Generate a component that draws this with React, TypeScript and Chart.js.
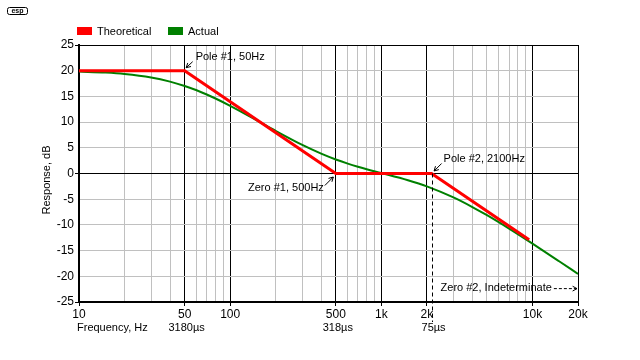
import React, { useEffect, useRef } from "react";
import { Chart, registerables } from "chart.js";

Chart.register(...registerables);

// ---- data ----
const ACTUAL_FREQ = [10, 15, 20, 30, 40, 50, 60, 70, 80, 100, 150, 200, 300, 400, 500, 600, 700, 800, 1000, 1500, 2000, 3000, 4000, 5000, 7000, 10000, 15000, 20000];
const ACTUAL_DB = [19.83, 19.63, 19.36, 18.68, 17.88, 17.03, 16.19, 15.37, 14.59, 13.17, 10.35, 8.3, 5.57, 3.87, 2.73, 1.93, 1.32, 0.83, 0.09, -1.31, -2.5, -4.65, -6.52, -8.12, -10.73, -13.65, -17.07, -19.53];
const THEORY_FREQ = [10, 50, 500, 2150, 9500];
const THEORY_DB = [20, 20, 0, 0, -12.9];

const X_TICKS = [10, 20, 30, 40, 50, 60, 70, 80, 90, 100, 200, 300, 400, 500, 600, 700, 800, 900, 1000, 2000, 3000, 4000, 5000, 6000, 7000, 8000, 9000, 10000, 20000];
const X_MAJOR = [10, 50, 100, 500, 1000, 2000, 10000, 20000];
const X_LABELS = ["10", "50", "100", "500", "1k", "2k", "10k", "20k"];
const Y_BLACK = [0, 25];

const TC_FREQ = [50, 500, 2150];
const TC_LABELS = ["3180µs", "318µs", "75µs"];

const POLE1 = { f: 50, db: 20, text: "Pole #1, 50Hz" };
const ZERO1 = { f: 500, db: 0, text: "Zero #1, 500Hz" };
const POLE2 = { f: 2150, db: 0, text: "Pole #2, 2100Hz" };
const ZERO2 = { f: 2150, db: -22.3, text: "Zero #2, Indeterminate" };

const FAMILY = '"Liberation Sans", Arial, sans-serif';
const RED = "#ff0000";
const GREEN = "#008000";
const GRAY = "#c0c0c0";

function arrowHead(ctx: CanvasRenderingContext2D, x1: number, y1: number, x2: number, y2: number) {
  const a = Math.atan2(y2 - y1, x2 - x1);
  const L = 5;
  ctx.beginPath();
  ctx.moveTo(x2 - L * Math.cos(a - 0.5), y2 - L * Math.sin(a - 0.5));
  ctx.lineTo(x2, y2);
  ctx.lineTo(x2 - L * Math.cos(a + 0.5), y2 - L * Math.sin(a + 0.5));
  ctx.stroke();
}

function arrow(ctx: CanvasRenderingContext2D, x1: number, y1: number, x2: number, y2: number, dash: number[] = []) {
  ctx.setLineDash(dash);
  ctx.beginPath();
  ctx.moveTo(x1, y1);
  ctx.lineTo(x2, y2);
  ctx.stroke();
  ctx.setLineDash([]);
  arrowHead(ctx, x1, y1, x2, y2);
}

const overlay = {
  id: "overlay",
  afterDraw(chart: any) {
    const { ctx, chartArea } = chart;
    const xs = chart.scales.x;
    const ys = chart.scales.y;
    ctx.save();
    ctx.fillStyle = "#000";
    ctx.strokeStyle = "#000";
    ctx.lineWidth = 1;

    // logo
    ctx.beginPath();
    ctx.roundRect(7.5, 7.5, 20, 7, 2);
    ctx.stroke();
    ctx.font = "bold 7px " + FAMILY;
    ctx.textAlign = "center";
    ctx.textBaseline = "middle";
    ctx.fillText("esp", 17.5, 11.5);

    // legend
    ctx.font = "11px " + FAMILY;
    ctx.textAlign = "left";
    ctx.textBaseline = "middle";
    const legend = [
      { label: chart.data.datasets[0].label, color: RED, x: 77 },
      { label: chart.data.datasets[1].label, color: GREEN, x: 168 },
    ];
    legend.forEach((l) => {
      ctx.fillStyle = l.color;
      ctx.fillRect(l.x, 27, 15, 8);
      ctx.fillStyle = "#000";
      ctx.fillText(l.label, l.x + 20, 31.5);
    });

    // y title
    ctx.save();
    ctx.translate(47, 180);
    ctx.rotate(-Math.PI / 2);
    ctx.textAlign = "center";
    ctx.fillText("Response, dB", 0, 0);
    ctx.restore();

    // bottom row
    ctx.textAlign = "left";
    ctx.fillText("Frequency, Hz", 77, 328);
    ctx.textAlign = "center";
    TC_FREQ.forEach((f, i) => {
      ctx.fillText(TC_LABELS[i], xs.getPixelForValue(f) + 2, 328);
    });

    // dashed pole #2 line
    const xd = Math.round(xs.getPixelForValue(POLE2.f)) + 0.5;
    ctx.setLineDash([4, 3]);
    ctx.beginPath();
    ctx.moveTo(xd, ys.getPixelForValue(0));
    ctx.lineTo(xd, chartArea.bottom + 20);
    ctx.stroke();
    ctx.setLineDash([]);

    // annotations
    ctx.font = "11px " + FAMILY;
    ctx.textBaseline = "middle";
    // Pole #1
    let px = xs.getPixelForValue(POLE1.f);
    let py = ys.getPixelForValue(POLE1.db);
    arrow(ctx, px + 8, py - 9, px + 1.5, py - 3);
    ctx.textAlign = "left";
    ctx.fillText(POLE1.text, px + 11, py - 13.5);
    // Zero #1
    px = xs.getPixelForValue(ZERO1.f);
    py = ys.getPixelForValue(ZERO1.db);
    arrow(ctx, px - 11, py + 12, px - 2.5, py + 3.5);
    ctx.textAlign = "right";
    ctx.fillText(ZERO1.text, px - 12, py + 14);
    // Pole #2
    px = xs.getPixelForValue(POLE2.f);
    py = ys.getPixelForValue(POLE2.db);
    arrow(ctx, px + 10, py - 10, px + 2.5, py - 2.5);
    ctx.textAlign = "left";
    ctx.fillText(POLE2.text, px + 12, py - 14.5);
    // Zero #2
    px = xs.getPixelForValue(ZERO2.f);
    py = ys.getPixelForValue(ZERO2.db);
    ctx.textAlign = "left";
    ctx.fillText(ZERO2.text, px + 9, py);
    const tw = ctx.measureText(ZERO2.text).width;
    arrow(ctx, px + 9 + tw + 2, py + 0.5, chartArea.right - 1, py + 0.5, [3, 2]);

    ctx.restore();
  },
};

export default function App() {
  const ref = useRef<HTMLCanvasElement | null>(null);

  useEffect(() => {
    if (!ref.current) return;
    const isMajor = (v: any) => X_MAJOR.indexOf(Number(v)) >= 0;
    const chart = new Chart(ref.current, {
      type: "line",
      data: {
        datasets: [
          {
            label: "Theoretical",
            data: THEORY_FREQ.map((f, i) => ({ x: f, y: THEORY_DB[i] })),
            borderColor: RED,
            backgroundColor: RED,
            borderWidth: 3,
            pointRadius: 0,
            tension: 0,
          },
          {
            label: "Actual",
            data: ACTUAL_FREQ.map((f, i) => ({ x: f, y: ACTUAL_DB[i] })),
            borderColor: GREEN,
            backgroundColor: GREEN,
            borderWidth: 2,
            pointRadius: 0,
            cubicInterpolationMode: "monotone",
          },
        ],
      },
      options: {
        responsive: false,
        animation: false,
        events: [],
        layout: { padding: { top: 45, right: 62, left: 0, bottom: 0 } },
        plugins: {
          legend: { display: false },
          tooltip: { enabled: false },
          title: { display: false },
        },
        scales: {
          x: {
            type: "logarithmic",
            min: 10,
            max: 20000,
            afterBuildTicks: (s: any) => {
              s.ticks = X_TICKS.map((v) => ({ value: v }));
            },
            afterFit: (s: any) => {
              s.height = 58;
            },
            ticks: {
              autoSkip: false,
              maxRotation: 0,
              minRotation: 0,
              padding: 1,
              color: "#000",
              font: { size: 12, family: FAMILY },
              callback: (v: any) => {
                const i = X_MAJOR.indexOf(Number(v));
                return i >= 0 ? X_LABELS[i] : "";
              },
            },
            grid: {
              color: (c: any) => (isMajor(c.tick?.value) ? "#000" : GRAY),
              tickColor: (c: any) => (isMajor(c.tick?.value) ? "#000" : "rgba(0,0,0,0)"),
              tickLength: 4,
              lineWidth: 1,
            },
            border: { color: "#000", width: 2 },
          },
          y: {
            min: -25,
            max: 25,
            afterFit: (s: any) => {
              s.width = 79;
            },
            ticks: {
              stepSize: 5,
              padding: 1,
              color: "#000",
              font: { size: 12, family: FAMILY },
            },
            grid: {
              color: (c: any) => (Y_BLACK.indexOf(c.tick?.value) >= 0 ? "#000" : GRAY),
              tickColor: (c: any) => ([25, 0, -25].indexOf(c.tick?.value) >= 0 ? "#000" : "rgba(0,0,0,0)"),
              tickLength: 4,
              lineWidth: 1,
            },
            border: { color: "#000", width: 2 },
          },
        },
      },
      plugins: [overlay],
    } as any);
    return () => chart.destroy();
  }, []);

  return (
    <div style={{ position: "fixed", left: 0, top: 0, width: 640, height: 360, background: "#fff" }}>
      <canvas ref={ref} width={640} height={360} style={{ display: "block" }} />
    </div>
  );
}
